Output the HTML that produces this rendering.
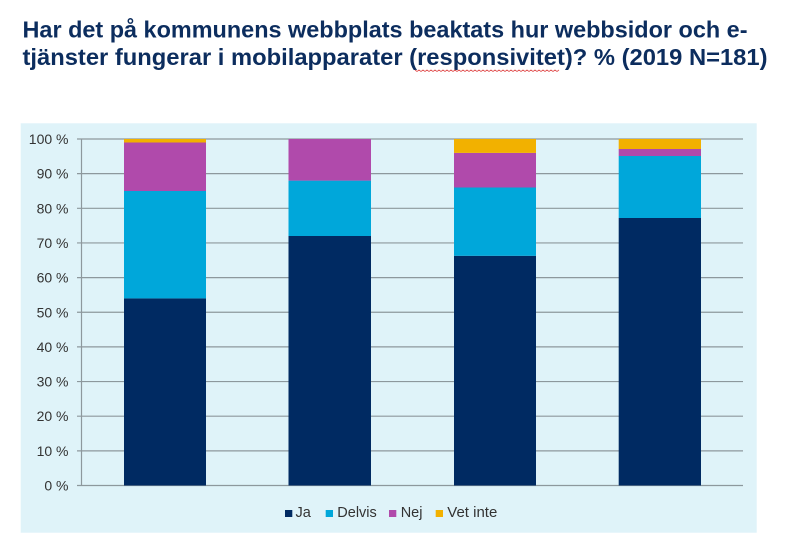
<!DOCTYPE html>
<html>
<head>
<meta charset="utf-8">
<style>
  html, body { margin:0; padding:0; background:#ffffff; }
  svg { display:block; }
  text { font-family: "Liberation Sans", "DejaVu Sans", sans-serif; }
</style>
</head>
<body>
<svg width="790" height="554" viewBox="0 0 790 554" xmlns="http://www.w3.org/2000/svg">
  <rect x="0" y="0" width="790" height="554" fill="#ffffff"/>

  <!-- Title -->
  <text x="22.5" y="37.5" font-size="23" font-weight="bold" fill="#0c2d5e" textLength="725" lengthAdjust="spacingAndGlyphs">Har det på kommunens webbplats beaktats hur webbsidor och e-</text>
  <text x="22.5" y="65" font-size="23" font-weight="bold" fill="#0c2d5e" textLength="745" lengthAdjust="spacingAndGlyphs">tjänster fungerar i mobilapparater (responsivitet)? % (2019 N=181)</text>
  <!-- spellcheck squiggle -->
  <polyline fill="none" stroke="#e05050" stroke-width="0.8" points="415,70 417,71.5 419,70 421,71.5 423,70 425,71.5 427,70 429,71.5 431,70 433,71.5 435,70 437,71.5 439,70 441,71.5 443,70 445,71.5 447,70 449,71.5 451,70 453,71.5 455,70 457,71.5 459,70 461,71.5 463,70 465,71.5 467,70 469,71.5 471,70 473,71.5 475,70 477,71.5 479,70 481,71.5 483,70 485,71.5 487,70 489,71.5 491,70 493,71.5 495,70 497,71.5 499,70 501,71.5 503,70 505,71.5 507,70 509,71.5 511,70 513,71.5 515,70 517,71.5 519,70 521,71.5 523,70 525,71.5 527,70 529,71.5 531,70 533,71.5 535,70 537,71.5 539,70 541,71.5 543,70 545,71.5 547,70 549,71.5 551,70 553,71.5 555,70 557,71.5 559,70"/>

  <!-- Chart panel -->
  <rect x="20.7" y="123.3" width="736" height="409.4" fill="#dff3f9"/>

  <!-- Gridlines -->
  <g stroke="#8d989d" stroke-width="1.2">
    <line x1="77" y1="139" x2="743" y2="139"/>
    <line x1="77" y1="173.65" x2="743" y2="173.65"/>
    <line x1="77" y1="208.3" x2="743" y2="208.3"/>
    <line x1="77" y1="242.95" x2="743" y2="242.95"/>
    <line x1="77" y1="277.6" x2="743" y2="277.6"/>
    <line x1="77" y1="312.25" x2="743" y2="312.25"/>
    <line x1="77" y1="346.9" x2="743" y2="346.9"/>
    <line x1="77" y1="381.55" x2="743" y2="381.55"/>
    <line x1="77" y1="416.2" x2="743" y2="416.2"/>
    <line x1="77" y1="450.85" x2="743" y2="450.85"/>
    <line x1="77" y1="485.5" x2="743" y2="485.5"/>
    <line x1="81.5" y1="139" x2="81.5" y2="485.5"/>
  </g>

  <!-- Y tick labels -->
  <g font-size="14" fill="#333333" text-anchor="end">
    <text x="68.5" y="144">100 %</text>
    <text x="68.5" y="178.7">90 %</text>
    <text x="68.5" y="213.3">80 %</text>
    <text x="68.5" y="248">70 %</text>
    <text x="68.5" y="282.6">60 %</text>
    <text x="68.5" y="317.3">50 %</text>
    <text x="68.5" y="351.9">40 %</text>
    <text x="68.5" y="386.6">30 %</text>
    <text x="68.5" y="421.2">20 %</text>
    <text x="68.5" y="455.9">10 %</text>
    <text x="68.5" y="490.5">0 %</text>
  </g>

  <!-- Bar 1 -->
  <rect x="124" y="298.4" width="82" height="187.1" fill="#002a62"/>
  <rect x="124" y="191" width="82" height="107.4" fill="#00a7da"/>
  <rect x="124" y="142.5" width="82" height="48.5" fill="#b04aab"/>
  <rect x="124" y="139" width="82" height="3.5" fill="#f2b100"/>

  <!-- Bar 2 -->
  <rect x="288.5" y="236" width="82.5" height="249.5" fill="#002a62"/>
  <rect x="288.5" y="180.6" width="82.5" height="55.4" fill="#00a7da"/>
  <rect x="288.5" y="139" width="82.5" height="41.6" fill="#b04aab"/>

  <!-- Bar 3 -->
  <rect x="454" y="255.8" width="82" height="229.7" fill="#002a62"/>
  <rect x="454" y="187.5" width="82" height="68.3" fill="#00a7da"/>
  <rect x="454" y="152.9" width="82" height="34.6" fill="#b04aab"/>
  <rect x="454" y="139" width="82" height="13.9" fill="#f2b100"/>

  <!-- Bar 4 -->
  <rect x="618.7" y="218" width="82.3" height="267.5" fill="#002a62"/>
  <rect x="618.7" y="156" width="82.3" height="62" fill="#00a7da"/>
  <rect x="618.7" y="149" width="82.3" height="7" fill="#b04aab"/>
  <rect x="618.7" y="139" width="82.3" height="10" fill="#f2b100"/>

  <!-- Legend -->
  <rect x="285" y="510" width="7.3" height="7" fill="#002a62"/>
  <text x="295.5" y="517" font-size="14.5" fill="#333333">Ja</text>
  <rect x="325.7" y="510" width="7.3" height="7" fill="#00a7da"/>
  <text x="337.3" y="517" font-size="14.5" fill="#333333">Delvis</text>
  <rect x="389" y="510" width="7.3" height="7" fill="#b04aab"/>
  <text x="400.7" y="517" font-size="14.5" fill="#333333">Nej</text>
  <rect x="435.7" y="510" width="7.3" height="7" fill="#f2b100"/>
  <text x="447.3" y="517" font-size="14.5" fill="#333333" textLength="50" lengthAdjust="spacingAndGlyphs">Vet inte</text>
</svg>
</body>
</html>
